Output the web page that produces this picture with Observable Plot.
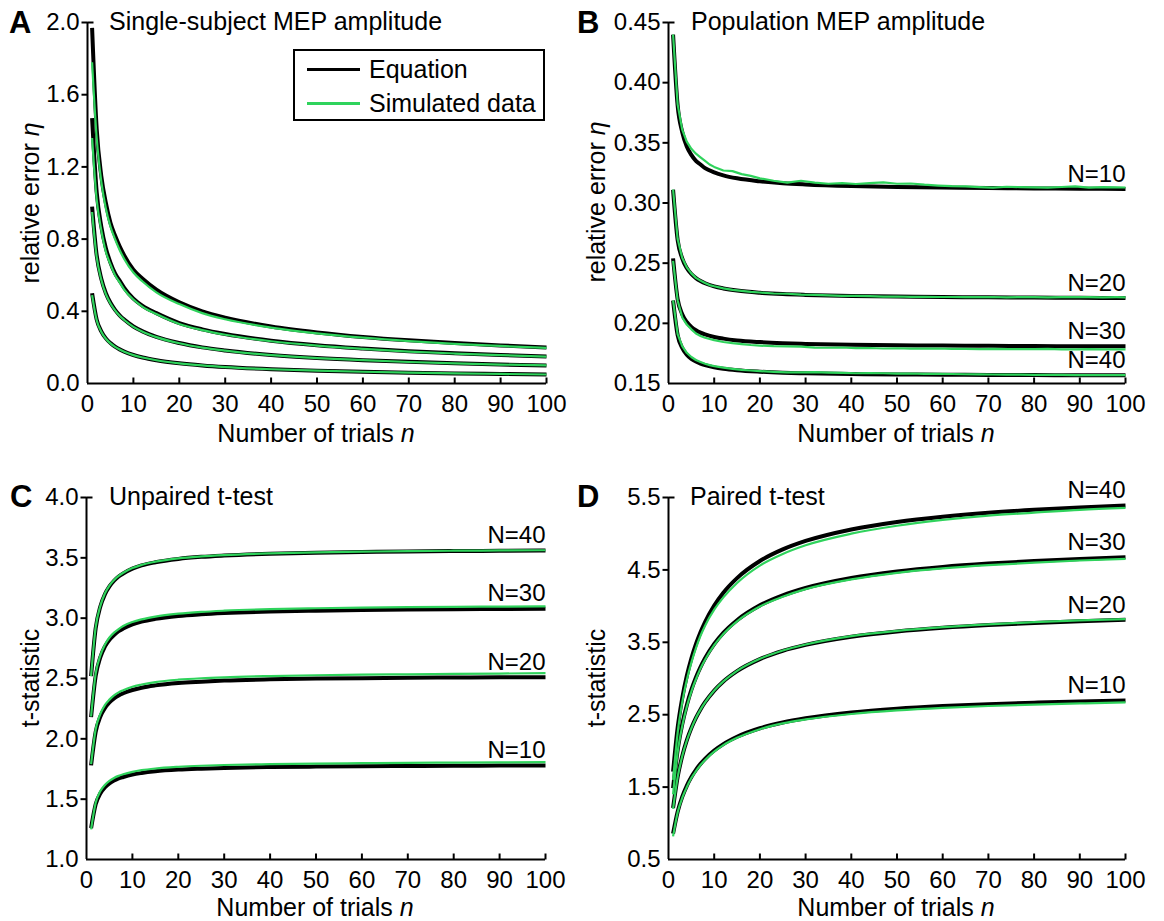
<!DOCTYPE html>
<html><head><meta charset="utf-8">
<script src="https://cdn.jsdelivr.net/npm/d3@7"></script>
<script src="https://cdn.jsdelivr.net/npm/@observablehq/plot@0.6"></script>
<style>
body{margin:0;background:#fff;}
#root{position:relative;width:1164px;height:921px;overflow:hidden;font-family:"Liberation Sans",Arial,sans-serif;color:#000;background:#fff;}
.panel{position:absolute;}
.t{position:absolute;white-space:nowrap;font-size:25px;line-height:1;}
.c{transform:translate(-50%,-50%);}
.v{transform:translate(-50%,-50%) rotate(-90deg);}
.lt{font-weight:bold;font-size:31px;transform:translateY(-50%);}
.ti{transform:translateY(-50%);}
#legend{position:absolute;left:293px;top:49px;width:248px;height:68px;border:2px solid #000;background:#fff;}
.lg-line{position:absolute;left:12px;width:53px;height:2.5px;}
.lg-text{position:absolute;left:74px;font-size:25px;line-height:1;transform:translateY(-50%);}
</style></head><body><div id="root"></div>
<script>
// ---------- shared axes ----------
const nGrid = [1,2,3,4,5,6,7,8,10,12,15,20,25,30,40,50,60,70,80,90,100];
const nDenseB = [1,2,3,4,5,6,7,8,9,10,12,14,16,18,20,23,26,29,32,35,38,41,44,47,50,53,56,59,62,65,68,71,74,77,80,83,86,89,92,95,98,100];
const xTicks = [0,10,20,30,40,50,60,70,80,90,100];

// ---------- Panel A: single-subject relative error ----------
const aEqTop   = [1.97,1.41,1.15,1.00,0.89,0.82,0.76,0.71,0.63,0.58,0.52,0.45,0.40,0.365,0.316,0.283,0.258,0.239,0.224,0.211,0.200];
const aSimTop  = [1.78,1.36,1.12,0.97,0.87,0.80,0.74,0.69,0.615,0.565,0.505,0.44,0.39,0.356,0.31,0.278,0.254,0.235,0.22,0.208,0.197];
const aEq2     = [1.47,1.06,0.87,0.75,0.67,0.61,0.57,0.53,0.47,0.43,0.39,0.335,0.30,0.274,0.237,0.212,0.194,0.179,0.168,0.158,0.150];
const aSim2    = [1.36,1.02,0.85,0.73,0.66,0.60,0.56,0.52,0.465,0.425,0.385,0.33,0.296,0.27,0.234,0.21,0.192,0.177,0.166,0.157,0.149];
const aEq3     = [0.98,0.71,0.58,0.50,0.447,0.408,0.378,0.354,0.316,0.289,0.258,0.224,0.200,0.183,0.158,0.141,0.129,0.120,0.112,0.105,0.100];
const aSim3    = [0.95,0.70,0.575,0.495,0.443,0.405,0.375,0.352,0.314,0.287,0.257,0.223,0.199,0.182,0.157,0.141,0.129,0.119,0.111,0.105,0.100];
const aEq4     = [0.50,0.354,0.289,0.250,0.224,0.204,0.189,0.177,0.158,0.144,0.129,0.112,0.100,0.091,0.079,0.071,0.065,0.060,0.056,0.053,0.050];
const aSim4    = [0.49,0.35,0.287,0.248,0.222,0.203,0.188,0.176,0.157,0.144,0.129,0.112,0.100,0.091,0.079,0.071,0.065,0.060,0.056,0.053,0.050];
const aYTicks  = [0,0.4,0.8,1.2,1.6,2.0];

// ---------- Panel B: population relative error ----------
const bLabels = ["N=10","N=20","N=30","N=40"];
const bEq10 = [0.440,0.381,0.359,0.347,0.340,0.335,0.332,0.329,0.3255,0.323,0.3205,0.318,0.3164,0.3154,0.3141,0.3133,0.3128,0.3124,0.3121,0.3119,0.3117];
const bEq20 = [0.311,0.2693,0.254,0.246,0.241,0.2376,0.2352,0.2333,0.2307,0.229,0.2272,0.2254,0.2243,0.2236,0.2227,0.2222,0.2218,0.2216,0.2214,0.2212,0.2211];
const bEq30 = [0.254,0.2201,0.2076,0.2011,0.197,0.1943,0.1923,0.1908,0.1887,0.1873,0.1858,0.1844,0.1835,0.1829,0.1822,0.1818,0.1815,0.1813,0.1811,0.181,0.1809];
const bEq40 = [0.219,0.1902,0.1795,0.174,0.1705,0.1682,0.1665,0.1652,0.1634,0.1622,0.161,0.1598,0.159,0.1585,0.1579,0.1575,0.1573,0.1571,0.157,0.1568,0.1568];
const bSim10 = [0.440,0.382,0.361,0.351,0.345,0.341,0.338,0.335,0.332,0.330,0.327,0.3265,0.324,0.3225,0.3205,0.3185,0.317,0.3185,0.317,0.316,0.3165,0.3158,0.3165,0.3172,0.316,0.3162,0.3152,0.3145,0.314,0.3138,0.3132,0.3128,0.3135,0.3132,0.313,0.3128,0.3133,0.3138,0.3128,0.3132,0.313,0.3129];
const bSim20 = [0.3112,0.270,0.2545,0.2465,0.2415,0.2378,0.2355,0.2335,0.2318,0.2308,0.229,0.2278,0.227,0.2262,0.2256,0.2248,0.2246,0.2238,0.2236,0.2232,0.2229,0.2228,0.2226,0.2222,0.2223,0.222,0.2221,0.2219,0.2219,0.2218,0.2217,0.2219,0.2216,0.2218,0.2217,0.2216,0.2218,0.2217,0.2218,0.2216,0.2217,0.2216];
const bSim30 = [0.252,0.219,0.205,0.199,0.195,0.1915,0.1895,0.188,0.187,0.186,0.1845,0.1835,0.1828,0.182,0.1815,0.181,0.1808,0.1806,0.1798,0.1797,0.1799,0.1794,0.1795,0.1791,0.1793,0.179,0.1789,0.1791,0.1787,0.1788,0.1786,0.1788,0.1785,0.1786,0.1785,0.1787,0.1784,0.1784,0.1785,0.1783,0.1784,0.1784];
const bSim40 = [0.219,0.191,0.181,0.1755,0.172,0.1695,0.1678,0.1664,0.1653,0.1645,0.1632,0.1622,0.1614,0.1608,0.1603,0.1597,0.1593,0.1592,0.1594,0.159,0.1588,0.1585,0.1587,0.1585,0.1582,0.1583,0.158,0.158,0.1579,0.1577,0.1576,0.1575,0.1574,0.1573,0.1572,0.1572,0.1571,0.157,0.157,0.1569,0.1569,0.1569];
const bYTicks = [0.15,0.20,0.25,0.30,0.35,0.40,0.45];

// ---------- Panel C: unpaired t-test ----------
const cLabels = ["N=40","N=30","N=20","N=10"];
const cEq40  = [2.52,2.916,3.095,3.197,3.263,3.31,3.345,3.37,3.41,3.437,3.463,3.491,3.508,3.519,3.534,3.543,3.548,3.553,3.556,3.558,3.56];
const cSim40 = [2.52,2.925,3.10,3.205,3.27,3.316,3.35,3.376,3.415,3.442,3.468,3.496,3.512,3.523,3.537,3.546,3.551,3.556,3.559,3.561,3.563];
const cEq30  = [2.18,2.521,2.675,2.764,2.821,2.861,2.892,2.914,2.948,2.971,2.994,3.018,3.032,3.042,3.055,3.062,3.067,3.071,3.074,3.076,3.078];
const cSim30 = [2.185,2.54,2.69,2.78,2.84,2.88,2.91,2.935,2.968,2.99,3.013,3.037,3.052,3.062,3.075,3.082,3.087,3.091,3.094,3.096,3.098];
const cEq20  = [1.78,2.057,2.183,2.255,2.302,2.335,2.36,2.378,2.405,2.424,2.443,2.463,2.474,2.483,2.493,2.499,2.503,2.506,2.508,2.51,2.511];
const cSim20 = [1.79,2.08,2.205,2.28,2.325,2.36,2.385,2.403,2.432,2.45,2.47,2.49,2.502,2.51,2.52,2.527,2.532,2.535,2.538,2.541,2.544];
const cEq10  = [1.26,1.457,1.547,1.598,1.631,1.654,1.672,1.684,1.704,1.717,1.731,1.745,1.753,1.759,1.766,1.77,1.773,1.775,1.777,1.778,1.779];
const cSim10 = [1.25,1.47,1.565,1.618,1.652,1.676,1.693,1.706,1.726,1.74,1.754,1.768,1.777,1.783,1.79,1.795,1.798,1.801,1.803,1.805,1.807];
const cYTicks = [1.0,1.5,2.0,2.5,3.0,3.5,4.0];

// ---------- Panel D: paired t-test ----------
const dLabels = ["N=40","N=30","N=20","N=10"];
const dEq40  = [1.713,2.319,2.727,3.034,3.276,3.474,3.639,3.78,4.007,4.185,4.387,4.623,4.783,4.9,5.059,5.163,5.235,5.289,5.33,5.363,5.389];
const dSim40 = [1.6,2.25,2.67,2.98,3.22,3.42,3.59,3.73,3.95,4.12,4.32,4.56,4.72,4.84,5.0,5.11,5.19,5.25,5.29,5.33,5.357];
const dEq30  = [1.486,2.011,2.366,2.631,2.842,3.013,3.157,3.279,3.476,3.63,3.805,4.01,4.149,4.25,4.388,4.478,4.541,4.587,4.623,4.652,4.675];
const dSim30 = [1.40,1.98,2.34,2.61,2.82,2.99,3.14,3.26,3.46,3.615,3.79,3.995,4.13,4.235,4.37,4.46,4.52,4.565,4.6,4.63,4.652];
const dEq20  = [1.211,1.64,1.928,2.145,2.316,2.456,2.573,2.672,2.833,2.959,3.102,3.268,3.382,3.464,3.577,3.65,3.701,3.739,3.768,3.792,3.81];
const dSim20 = [1.2,1.635,1.925,2.14,2.31,2.455,2.57,2.67,2.835,2.96,3.105,3.272,3.387,3.47,3.585,3.658,3.71,3.748,3.778,3.802,3.82];
const dEq10  = [0.857,1.16,1.364,1.518,1.639,1.738,1.821,1.891,2.005,2.094,2.195,2.313,2.393,2.451,2.531,2.583,2.619,2.646,2.666,2.683,2.696];
const dSim10 = [0.82,1.15,1.35,1.5,1.625,1.72,1.805,1.875,1.99,2.08,2.18,2.3,2.38,2.435,2.51,2.56,2.595,2.62,2.64,2.656,2.67];
const dYTicks = [0.5,1.5,2.5,3.5,4.5,5.5];

// ---------- styling ----------
const GREEN = "#2fd35c";
const FONT = "'Liberation Sans', Arial, sans-serif";
const tickUp = {draw(ctx){ ctx.moveTo(0,0); ctx.lineTo(0,-6); }};
const tickLeft = {draw(ctx){ ctx.moveTo(0,0); ctx.lineTo(-6,0); }};
const tickRight = {draw(ctx){ ctx.moveTo(0,0); ctx.lineTo(6,0); }};

function rows(series, nArr) {
  return series.flatMap((arr, g) => arr.map((v, i) => ({n: nArr[i], v, g})));
}

function makePanel(cfg) {
  const eq = rows(cfg.eq, cfg.nEq);
  const sim = rows(cfg.sim, cfg.nSim);
  const lo = cfg.yDomain[0], hi = cfg.yDomain[1];
  const ends = cfg.labels ? cfg.eq.map((arr, g) => ({n: 100, v: arr[arr.length - 1], label: cfg.labels[g]})) : [];
  const plot = Plot.plot({
    width: cfg.width, height: cfg.height,
    marginLeft: cfg.ml, marginRight: cfg.mr, marginTop: cfg.mt, marginBottom: cfg.mb,
    x: {domain: [0, 100]},
    y: {domain: cfg.yDomain},
    style: {fontFamily: FONT, fontSize: "24px", color: "#000", background: "transparent", overflow: "visible"},
    marks: [
      Plot.line(eq, {x: "n", y: "v", z: "g", stroke: "#000", strokeWidth: 4, curve: "monotone-x", strokeLinecap: "butt"}),
      Plot.line(sim, {x: "n", y: "v", z: "g", stroke: GREEN, strokeWidth: 2.2, curve: cfg.simCurve || "monotone-x", strokeLinecap: "butt"}),
      Plot.ruleX([0], {y1: lo, y2: hi, stroke: "#000", strokeWidth: 2}),
      Plot.ruleY([lo], {x1: 0, x2: 100, stroke: "#000", strokeWidth: 2}),
      Plot.dot(xTicks.slice(1), {x: d => d, y: lo, symbol: tickUp, stroke: "#000", fill: "none", strokeWidth: 2}),
      Plot.dot(cfg.yTicks.slice(1), {x: 0, y: d => d, symbol: tickLeft, stroke: "#000", fill: "none", strokeWidth: 2}),
      Plot.dot([hi], {x: 0, y: d => d, symbol: tickRight, stroke: "#000", fill: "none", strokeWidth: 2}),
      Plot.axisX({ticks: xTicks, tickSize: 0, tickPadding: 11, label: null, tickFormat: d => String(d)}),
      Plot.axisY({ticks: cfg.yTicks, tickSize: 0, tickPadding: 8, label: null, tickFormat: cfg.yFmt}),
      Plot.text(ends, {x: "n", y: "v", text: "label", textAnchor: "end", dy: -15, fontSize: 24, fill: "#000"})
    ]
  });
  plot.classList.add("panel");
  plot.style.left = cfg.left + "px";
  plot.style.top = cfg.top + "px";
  return plot;
}

const root = document.getElementById("root");
const f1 = d3.format(".1f"), f2 = d3.format(".2f");

root.appendChild(makePanel({left: 0, top: 0, width: 580, height: 430, ml: 87, mr: 34, mt: 22, mb: 47,
  yDomain: [0, 2], yTicks: aYTicks, yFmt: f1, nEq: nGrid, nSim: nGrid,
  eq: [aEqTop, aEq2, aEq3, aEq4], sim: [aSimTop, aSim2, aSim3, aSim4]}));
root.appendChild(makePanel({left: 580, top: 0, width: 584, height: 430, ml: 88, mr: 39, mt: 22, mb: 47,
  yDomain: [0.15, 0.45], yTicks: bYTicks, yFmt: f2, nEq: nGrid, nSim: nDenseB, simCurve: "linear",
  eq: [bEq10, bEq20, bEq30, bEq40], sim: [bSim10, bSim20, bSim30, bSim40], labels: bLabels}));
root.appendChild(makePanel({left: 0, top: 470, width: 580, height: 451, ml: 86, mr: 35, mt: 27, mb: 62,
  yDomain: [1, 4], yTicks: cYTicks, yFmt: f1, nEq: nGrid, nSim: nGrid,
  eq: [cEq40, cEq30, cEq20, cEq10], sim: [cSim40, cSim30, cSim20, cSim10], labels: cLabels}));
root.appendChild(makePanel({left: 580, top: 470, width: 584, height: 451, ml: 88, mr: 39, mt: 27, mb: 62,
  yDomain: [0.5, 5.5], yTicks: dYTicks, yFmt: f1, nEq: nGrid, nSim: nGrid,
  eq: [dEq40, dEq30, dEq20, dEq10], sim: [dSim40, dSim30, dSim20, dSim10], labels: dLabels}));

// ---------- text overlays ----------
function addText(html, cls, left, top) {
  const d = document.createElement("div");
  d.className = "t " + cls;
  d.style.left = left + "px";
  d.style.top = top + "px";
  d.innerHTML = html;
  root.appendChild(d);
}
addText("A", "lt", 9, 22);
addText("B", "lt", 577, 22);
addText("C", "lt", 10, 496);
addText("D", "lt", 577, 496);
addText("Single-subject MEP amplitude", "ti", 109, 21);
addText("Population MEP amplitude", "ti", 691, 21);
addText("Unpaired t-test", "ti", 109, 496);
addText("Paired t-test", "ti", 690, 496);
addText("relative error <i>η</i>", "v", 30, 203);
addText("relative error <i>η</i>", "v", 596, 202);
addText("t-statistic", "v", 30, 678);
addText("t-statistic", "v", 596, 678);
addText("Number of trials <i>n</i>", "c", 316, 433);
addText("Number of trials <i>n</i>", "c", 896, 433);
addText("Number of trials <i>n</i>", "c", 315, 907);
addText("Number of trials <i>n</i>", "c", 896, 907);

// legend
const legendItems = [{name: "Equation", color: "#000"}, {name: "Simulated data", color: GREEN}];
const lg = document.createElement("div");
lg.id = "legend";
legendItems.forEach((it, i) => {
  const y = 18 + i * 34;
  const ln = document.createElement("div");
  ln.className = "lg-line";
  ln.style.top = (y - 1) + "px";
  ln.style.background = it.color;
  lg.appendChild(ln);
  const tx = document.createElement("div");
  tx.className = "lg-text";
  tx.style.top = y + "px";
  tx.textContent = it.name;
  lg.appendChild(tx);
});
root.appendChild(lg);
</script>
</body></html>
